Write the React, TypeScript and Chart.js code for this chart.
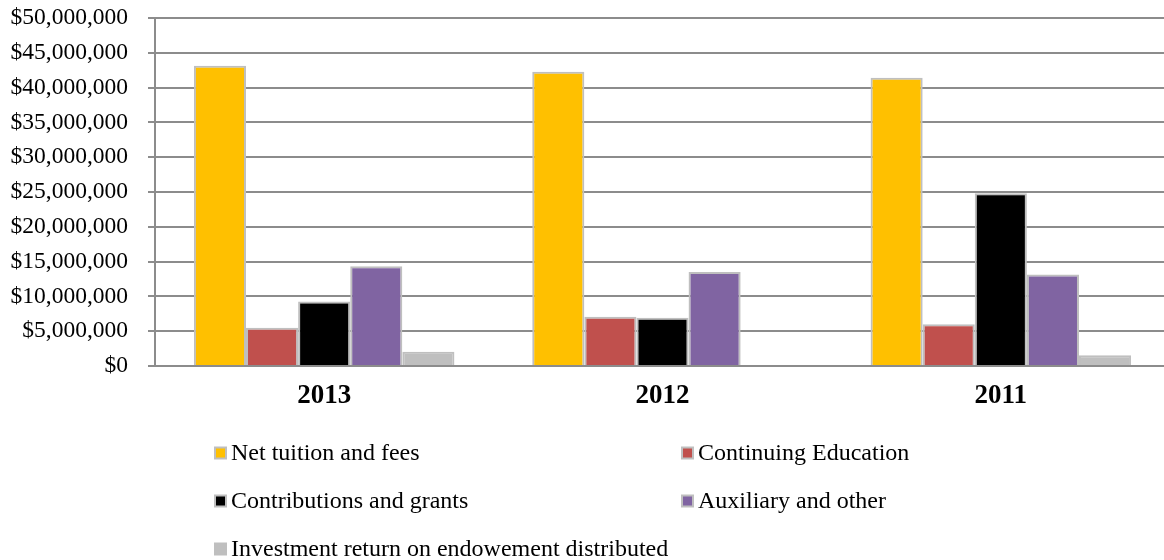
import React, { useEffect, useRef } from "react";
import { Chart, registerables } from "chart.js";

Chart.register(...registerables);

const categories = ["2013", "2012", "2011"];
const seriesNames = [
  "Net tuition and fees",
  "Continuing Education",
  "Contributions and grants",
  "Auxiliary and other",
  "Investment return on endowement distributed",
];
const netTuition = [43150000, 42280000, 41400000];
const continuingEd = [5500000, 7090000, 6000000];
const contributions = [9250000, 6950000, 24830000];
const auxiliary = [14330000, 13520000, 13130000];
const investment = [2060000, 0, 1540000];
const seriesColors = ["#FFC000", "#C0504D", "#000000", "#8064A2", "#BFBFBF"];
const yTicksMax = 50000000;
const yTickStep = 5000000;

const seriesValues = [netTuition, continuingEd, contributions, auxiliary, investment];

const legendPlugin = {
  id: "gridLegend",
  afterDraw(chart: any) {
    const ctx = chart.ctx;
    const cols = [214, 681];
    const rows = [453, 501, 549];
    ctx.save();
    ctx.font = "24px 'Liberation Serif', 'Times New Roman', serif";
    ctx.textBaseline = "middle";
    ctx.textAlign = "left";
    chart.data.datasets.forEach((ds: any, i: number) => {
      const x = cols[i % 2];
      const y = rows[Math.floor(i / 2)];
      ctx.fillStyle = "#BFBFBF";
      ctx.fillRect(x, y - 6.5, 13, 13);
      ctx.fillStyle = ds.backgroundColor;
      ctx.fillRect(x + 2, y - 4.5, 9, 9);
      ctx.fillStyle = "#000000";
      ctx.fillText(ds.label, x + 17, y + 1);
    });
    ctx.restore();
  },
};

export default function App() {
  const ref = useRef<HTMLCanvasElement | null>(null);
  useEffect(() => {
    if (!ref.current) return;
    const chart = new Chart(ref.current, {
      type: "bar",
      data: {
        labels: categories,
        datasets: seriesNames.map((name, i) => ({
          label: name,
          data: seriesValues[i],
          backgroundColor: seriesColors[i],
          borderColor: "#BFBFBF",
          borderWidth: 2,
          categoryPercentage: 0.77,
          barPercentage: 1.0,
        })),
      },
      options: {
        animation: false,
        responsive: false,
        maintainAspectRatio: false,
        layout: { padding: { left: 0, top: 18, right: 2, bottom: 130 } },
        plugins: {
          legend: { display: false },
          tooltip: { enabled: false },
        },
        scales: {
          x: {
            grid: { display: false, drawTicks: false },
            border: { display: true, color: "#8C8C8C", width: 2 },
            ticks: {
              color: "#000000",
              padding: 14,
              font: { family: "'Liberation Serif', 'Times New Roman', serif", size: 27, weight: "bold" },
            },
            afterFit(scale: any) {
              scale.height = 64;
              scale.paddingLeft = 0;
              scale.paddingRight = 0;
            },
          },
          y: {
            min: 0,
            max: yTicksMax,
            grid: { color: "#8C8C8C", lineWidth: 2, tickLength: 7 },
            border: { display: true, color: "#8C8C8C", width: 2 },
            ticks: {
              stepSize: yTickStep,
              color: "#000000",
              padding: 20,
              font: { family: "'Liberation Serif', 'Times New Roman', serif", size: 23.5 },
              callback: (v: any) => "$" + Number(v).toLocaleString("en-US"),
            },
            afterFit(scale: any) {
              scale.width = 155;
              scale.paddingTop = 0;
              scale.paddingBottom = 0;
            },
          },
        },
      },
      plugins: [legendPlugin],
    });
    return () => chart.destroy();
  }, []);
  return (
    <div style={{ position: "fixed", left: 0, top: 0, width: 1164, height: 560, overflow: "hidden", background: "#fff" }}>
      <canvas ref={ref} width={1172} height={560} style={{ width: 1172, height: 560, display: "block" }} />
    </div>
  );
}
